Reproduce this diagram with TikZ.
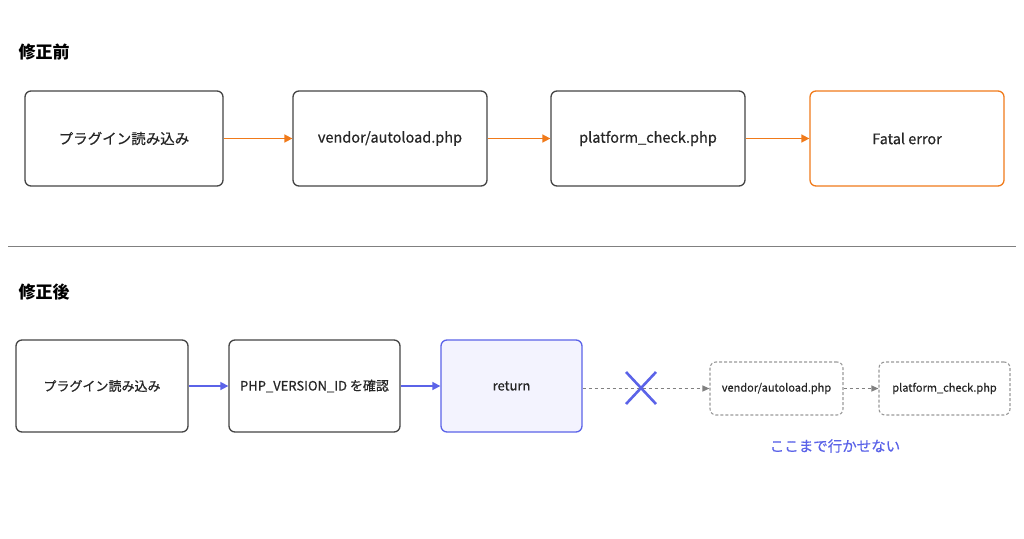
\documentclass[tikz,border=0pt]{standalone}
\usepackage{fontspec}
\setmainfont{Noto Sans CJK JP}
\newfontfamily\med{Noto Sans CJK JP}[FakeBold=0.6]
\usetikzlibrary{arrows.meta}
\definecolor{org}{HTML}{F07A1A}
\definecolor{blu}{HTML}{5B63E8}
\definecolor{bfill}{HTML}{F3F3FE}
\definecolor{dk}{HTML}{444444}
\begin{document}
\begin{tikzpicture}[x=1pt,y=-1pt,
 box/.style={draw=dk,line width=1.3pt,rounded corners=6pt,align=center,inner sep=0pt,text=black!85},
 dbox/.style={box,draw=gray!80,line width=1.1pt,dashed,dash pattern=on 3pt off 2pt,font=\med\fontsize{11}{13}\selectfont},
 oarr/.style={-{Triangle[length=8pt,width=8pt]},org,line width=1.6pt},
 barr/.style={-{Triangle[length=8pt,width=8pt]},blu,line width=1.6pt},
 garr/.style={-{Triangle[length=7pt,width=6pt]},gray,line width=1.1pt,dash pattern=on 3pt off 3pt}]
\useasboundingbox (0,0) rectangle (1024,538);
\node[anchor=west,font=\bfseries\fontsize{17}{20}\selectfont] (t1) at (15,52) {修正前};
\node[anchor=west,font=\bfseries\fontsize{17}{20}\selectfont] (t2) at (15,292) {修正後};
\coordinate (l1) at (8,246); \coordinate (l2) at (1016,246);
\draw[gray,line width=0.9pt] (l1) -- (l2);
\begin{scope}[every node/.append style={font=\med\fontsize{14.5}{17}\selectfont}]
\node[box,minimum width=198pt,minimum height=95pt] (a1) at (124,138.5) {プラグイン読み込み};
\node[box,minimum width=194pt,minimum height=95pt] (a2) at (390,138.5) {vendor/autoload.php};
\node[box,minimum width=194pt,minimum height=95pt] (a3) at (648,138.5) {platform\_check.php};
\node[box,draw=org,minimum width=194pt,minimum height=95pt] (a4) at (907,138.5) {Fatal error};
\end{scope}
\draw[oarr] (a1) -- (a2); \draw[oarr] (a2) -- (a3); \draw[oarr] (a3) -- (a4);
\begin{scope}[every node/.append style={font=\med\fontsize{13}{15}\selectfont}]
\node[box,minimum width=172pt,minimum height=92pt] (b1) at (102,386) {プラグイン読み込み};
\node[box,minimum width=171pt,minimum height=92pt] (b2) at (314.5,386) {PHP\_VERSION\_ID を確認};
\node[box,draw=blu,fill=bfill,minimum width=141pt,minimum height=92pt] (b3) at (511.5,386) {return};
\end{scope}
\node[dbox,minimum width=133pt,minimum height=53pt] (c1) at (776.5,388.5) {vendor/autoload.php};
\node[dbox,minimum width=131pt,minimum height=53pt] (c2) at (944.5,388.5) {platform\_check.php};
\draw[barr] (b1) -- (b2); \draw[barr] (b2) -- (b3);
\draw[garr] (b3.east |- c1.west) -- (c1.west);
\draw[garr] (c1) -- (c2);
\coordinate (x1) at (626,372); \coordinate (x2) at (656,404);
\coordinate (x3) at (656,372); \coordinate (x4) at (626,404);
\draw[blu,line width=2.6pt] (x1) -- (x2); \draw[blu,line width=2.6pt] (x3) -- (x4);
\node[text=blu,font=\med\fontsize{14.5}{17}\selectfont] (n) at (835,446) {ここまで行かせない};
\end{tikzpicture}
\end{document}
